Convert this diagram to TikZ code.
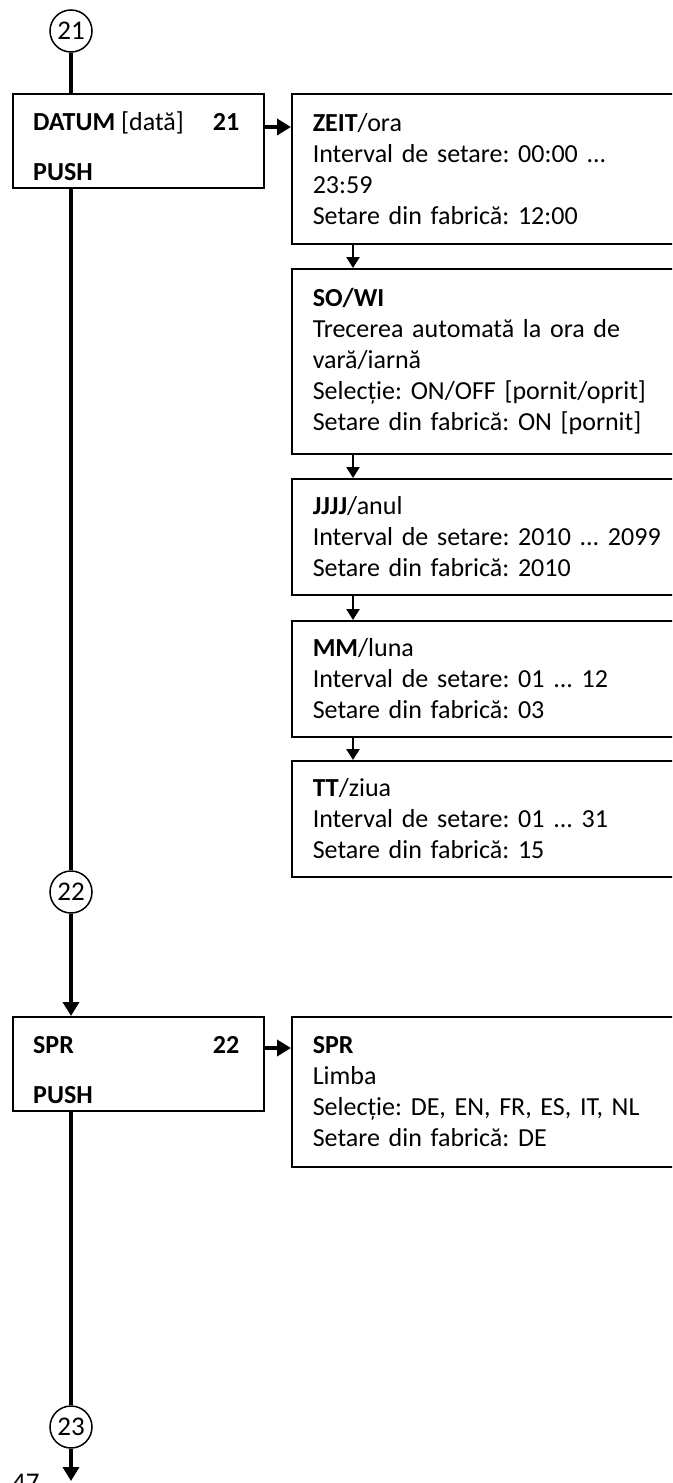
\documentclass[tikz,border=0pt]{standalone}
\usepackage{fontspec}
\setmainfont{Carlito}
\usetikzlibrary{arrows.meta}
\frenchspacing
\begin{document}
\begin{tikzpicture}[x=1pt,y=-1pt,
  every node/.style={font=\fontsize{26}{31}\selectfont},
  lbox/.style={draw, line width=1.5pt, minimum width=251pt, minimum height=94pt, anchor=north west, inner sep=0pt},
  rbox/.style={draw, line width=1.5pt, anchor=north west, text width=420pt, align=left, inner xsep=21pt, inner ysep=0pt},
  conn/.style={draw, circle, line width=1.5pt, minimum size=42pt, inner sep=0pt, font=\fontsize{27}{30}\selectfont},
  flow/.style={line width=4pt},
  flowarrow/.style={line width=4pt, -{Triangle[length=14pt,width=16pt]}},
  small/.style={line width=2.5pt, -{Triangle[length=11pt,width=13pt]}},
  lbl/.style={anchor=base west, inner sep=0pt},
  lblr/.style={anchor=base east, inner sep=0pt}
]
\useasboundingbox (0,0) rectangle (672,1483);
\clip (0,0) rectangle (672,1483);

% connectors (circles)
\node[conn] (c21) at (71,31) {21};
\node[conn] (c22) at (71,892) {22};
\node[conn] (c23) at (71,1427) {23};

% left boxes
\node[lbox] (datum) at (12,93) {};
\node[lbl] (datumt) at ([xshift=21pt,yshift=-37pt]datum.north west) {\textbf{DATUM} [dată]};
\node[lblr] (datumn) at ([xshift=-25pt,yshift=-37pt]datum.north east) {\textbf{21}};
\node[lbl] (datump) at ([xshift=21pt,yshift=-87pt]datum.north west) {\textbf{PUSH}};

\node[lbox] (spr) at (12,1016) {};
\node[lbl] (sprt) at ([xshift=21pt,yshift=-37pt]spr.north west) {\textbf{SPR}};
\node[lblr] (sprn) at ([xshift=-25pt,yshift=-37pt]spr.north east) {\textbf{22}};
\node[lbl] (sprp) at ([xshift=21pt,yshift=-87pt]spr.north west) {\textbf{PUSH}};

% right boxes
\node[rbox, minimum height=150pt] (zeit) at (291,93)
  {\textbf{ZEIT}/ora\\Interval de setare: 00:00 ...\\23:59\\Setare din fabrică: 12:00};
\node[rbox, minimum height=185pt] (sowi) at (291,268)
  {\textbf{SO/WI}\\Trecerea automată la ora de\\vară/iarnă\\Selecție: ON/OFF [pornit/oprit]\\Setare din fabrică: ON [pornit]};
\node[rbox, minimum height=116pt] (jjjj) at (291,478)
  {\textbf{JJJJ}/anul\\Interval de setare: 2010 ... 2099\\Setare din fabrică: 2010};
\node[rbox, minimum height=116pt] (mm) at (291,620)
  {\textbf{MM}/luna\\Interval de setare: 01 ... 12\\Setare din fabrică: 03};
\node[rbox, minimum height=116pt] (tt) at (291,760)
  {\textbf{TT}/ziua\\Interval de setare: 01 ... 31\\Setare din fabrică: 15};
\node[rbox, minimum height=150pt] (sprr) at (291,1016)
  {\textbf{SPR}\\Limba\\Selecție: DE, EN, FR, ES, IT, NL\\Setare din fabrică: DE};

% page number (cut off at the page edge, as in the reference)
\node[anchor=north west, inner sep=0pt, font=\fontsize{27}{30}\selectfont] (page) at (12,1474) {47};

% main flow
\draw[flow] (c21.south) -- (c21.south |- datum.north);
\draw[flow] (c21.south |- datum.south) -- (c22.north);
\draw[flowarrow] (c22.south) -- (c22.south |- spr.north);
\draw[flow] (c22.south |- spr.south) -- (c23.north);
\coordinate (endpt) at (71,1481);
\draw[flowarrow] (c23.south) -- (endpt);

% horizontal arrows
\draw[flowarrow] ([yshift=-34pt]datum.north east) -- ([yshift=-34pt]datum.north east -| zeit.west);
\draw[flowarrow] ([yshift=-32pt]spr.north east) -- ([yshift=-32pt]spr.north east -| sprr.west);

% chain of right boxes
\draw[small] ([xshift=62pt]zeit.south west) -- ([xshift=62pt]sowi.north west);
\draw[small] ([xshift=62pt]sowi.south west) -- ([xshift=62pt]jjjj.north west);
\draw[small] ([xshift=62pt]jjjj.south west) -- ([xshift=62pt]mm.north west);
\draw[small] ([xshift=62pt]mm.south west) -- ([xshift=62pt]tt.north west);
\end{tikzpicture}
\end{document}
